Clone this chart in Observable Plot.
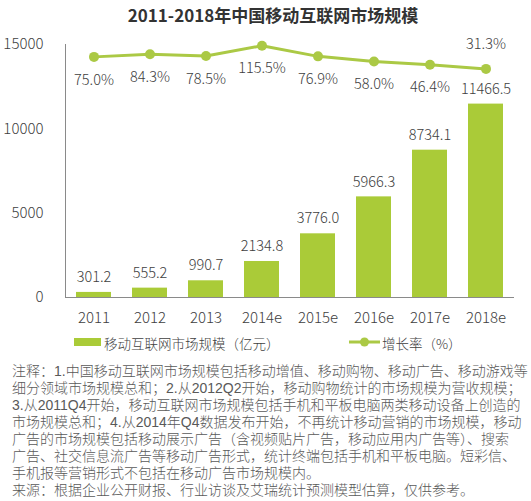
<!DOCTYPE html>
<html>
<head>
<meta charset="utf-8">
<script src="https://cdn.jsdelivr.net/npm/d3@7"></script>
<script src="https://cdn.jsdelivr.net/npm/@observablehq/plot@0.6"></script>
<style>
  html, body { margin: 0; padding: 0; background: #fff; }
  body { width: 531px; height: 501px; overflow: hidden; position: relative;
         font-family: "Noto Sans CJK SC", "Noto Sans", sans-serif; font-weight: 300; color: #404040; }
  #title { position: absolute; top: 0; left: 273px; transform: translateX(-50%); white-space: nowrap;
           height: 30px; line-height: 30px; font-size: 17px; font-weight: 700; color: #333; }
  #chart { position: absolute; top: 30px; left: 0; }
  #legend { position: absolute; top: 330px; left: 0; width: 531px; height: 22px; font-size: 13.5px; }
  .lg { position: absolute; top: 0; height: 22px; line-height: 22px; white-space: nowrap; }
  #notes { position: absolute; top: 363px; left: 12px; font-size: 14px; line-height: 17px; color: #595959;
           font-family: "Liberation Sans", "Noto Sans CJK SC", sans-serif; }
  #notes div { white-space: nowrap; height: 17px; }
</style>
</head>
<body>
<div id="title"></div>
<div id="chart"></div>
<div id="legend"></div>
<div id="notes"></div>
<script>
const titleText = "2011-2018年中国移动互联网市场规模";
const years = ["2011", "2012", "2013", "2014e", "2015e", "2016e", "2017e", "2018e"];
const marketSize = [301.2, 555.2, 990.7, 2134.8, 3776.0, 5966.3, 8734.1, 11466.5];
const growthRate = [75.0, 84.3, 78.5, 115.5, 76.9, 58.0, 46.4, 31.3];
const yTicks = [0, 5000, 10000, 15000];
const growthAxisDomain = [-800, 120]; // hidden secondary axis (%)
const seriesNames = ["移动互联网市场规模（亿元）", "增长率（%）"];
const noteLines = [
  "注释：1.中国移动互联网市场规模包括移动增值、移动购物、移动广告、移动游戏等",
  "细分领域市场规模总和；2.从2012Q2开始，移动购物统计的市场规模为营收规模；",
  "3.从2011Q4开始，移动互联网市场规模包括手机和平板电脑两类移动设备上创造的",
  "市场规模总和；4.从2014年Q4数据发布开始，不再统计移动营销的市场规模，移动",
  "广告的市场规模包括移动展示广告（含视频贴片广告，移动应用内广告等）、搜索",
  "广告、社交信息流广告等移动广告形式，统计终端包括手机和平板电脑。短彩信、",
  "手机报等营销形式不包括在移动广告市场规模内。",
  "来源：根据企业公开财报、行业访谈及艾瑞统计预测模型估算，仅供参考。"
];

const barColor = "#aacb38";
const lineColor = "#abc945";
const font = '"Noto Sans CJK SC", "Noto Sans", sans-serif';

const data = years.map((year, i) => ({year, size: marketSize[i], growth: growthRate[i], last: i === years.length - 1}));
const g2y = d3.scaleLinear().domain(growthAxisDomain).range([0, 15000]);

document.getElementById("title").textContent = titleText;

const chart = Plot.plot({
  width: 531,
  height: 300,
  marginTop: 14,
  marginBottom: 33,
  marginLeft: 65,
  marginRight: 18,
  style: {fontFamily: font, fontSize: "14.5px", color: "#404040", background: "transparent", fontWeight: 300},
  x: {domain: years, paddingInner: 0.375, paddingOuter: 0.1875, label: null},
  y: {domain: [0, 15000], label: null},
  marks: [
    Plot.barY(data, {x: "year", y: "size", fill: barColor}),
    Plot.frame({anchor: "left", stroke: "#8a8a8a"}),
    Plot.frame({anchor: "bottom", stroke: "#8a8a8a"}),
    Plot.axisX({tickSize: 0, tickPadding: 15, fontSize: 15, label: null}),
    Plot.axisY({ticks: yTicks, tickSize: 0, tickPadding: 22, fontSize: 15, tickFormat: d => String(d), label: null}),
    Plot.text(data, {x: "year", y: "size", text: d => d.size.toFixed(1), dy: -15, fill: "#404040"}),
    Plot.line(data, {x: "year", y: d => g2y(d.growth), stroke: lineColor, strokeWidth: 3}),
    Plot.dot(data, {x: "year", y: d => g2y(d.growth), r: 5, fill: lineColor, stroke: "none"}),
    Plot.text(data.filter(d => !d.last), {x: "year", y: d => g2y(d.growth), text: d => d.growth.toFixed(1) + "%", dy: 23, fill: "#404040"}),
    Plot.text(data.filter(d => d.last), {x: "year", y: d => g2y(d.growth), text: d => d.growth.toFixed(1) + "%", dy: -25, fill: "#404040"})
  ]
});
document.getElementById("chart").appendChild(chart);

// legend
const legend = document.getElementById("legend");
legend.innerHTML = `
  <div class="lg" style="left:74px;"><span style="display:inline-block;width:27px;height:8px;background:${barColor};vertical-align:middle;margin-right:3px;position:relative;top:-1px;"></span><span style="vertical-align:middle;">${seriesNames[0]}</span></div>
  <div class="lg" style="left:349px;"><svg width="31" height="12" style="vertical-align:middle;position:relative;top:-1px;margin-right:2px;"><line x1="0" y1="6" x2="31" y2="6" stroke="${lineColor}" stroke-width="3"/><circle cx="15.5" cy="6" r="4.5" fill="${lineColor}"/></svg><span style="vertical-align:middle;">${seriesNames[1]}</span></div>`;

const notes = document.getElementById("notes");
noteLines.forEach(t => { const d = document.createElement("div"); d.textContent = t; notes.appendChild(d); });
</script>
</body>
</html>
